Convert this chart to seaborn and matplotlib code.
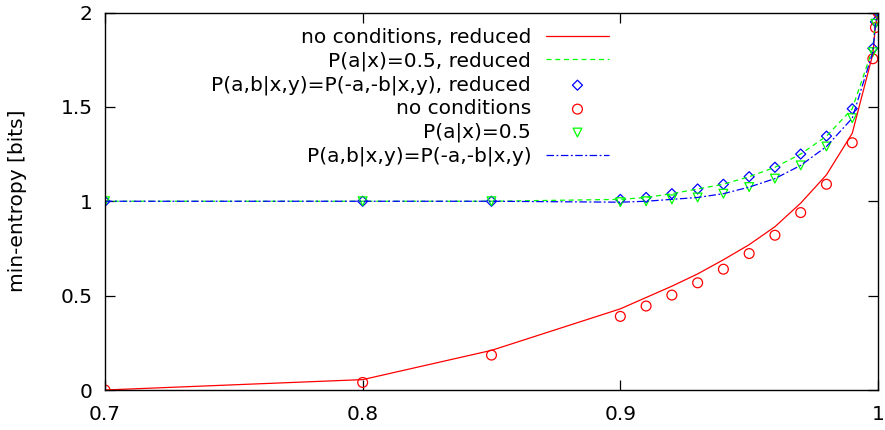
import matplotlib
matplotlib.use("Agg")
import matplotlib.pyplot as plt
import numpy as np
import pandas as pd
import seaborn as sns

# detection efficiency values
eta = [0.7, 0.8, 0.85, 0.9, 0.91, 0.92, 0.93, 0.94, 0.95, 0.96, 0.97, 0.98, 0.99, 0.998, 0.999, 1.0]

# min-entropy [bits]
no_cond_reduced = [0.0, 0.055, 0.21, 0.43, 0.49, 0.55, 0.615, 0.69, 0.77, 0.865, 0.99, 1.14, 1.36, 1.78, 1.93, 2.0]
half_reduced = [1.0, 1.0, 1.0, 1.01, 1.02, 1.04, 1.065, 1.09, 1.13, 1.18, 1.25, 1.345, 1.49, 1.81, 1.95, 2.0]
sym_reduced = [1.0, 1.0, 1.0, 1.01, 1.02, 1.04, 1.065, 1.09, 1.13, 1.18, 1.25, 1.345, 1.49, 1.81, 1.95, 2.0]
no_cond = [0.0, 0.04, 0.185, 0.39, 0.445, 0.503, 0.568, 0.64, 0.723, 0.82, 0.94, 1.09, 1.31, 1.755, 1.92, 2.0]
half = [1.0, 1.0, 1.0, 0.995, 1.0, 1.01, 1.02, 1.04, 1.075, 1.12, 1.19, 1.29, 1.44, 1.79, 1.94, 2.0]
sym = [1.0, 1.0, 1.0, 0.995, 1.0, 1.01, 1.02, 1.04, 1.075, 1.12, 1.19, 1.29, 1.44, 1.79, 1.94, 2.0]

RED, GREEN, BLUE = "#ff0000", "#00ff00", "#0000ff"
FS = 14.5

sns.set_style("white")
plt.rcParams["font.family"] = ["DejaVu Sans"]
plt.rcParams["font.size"] = FS
plt.rcParams["text.color"] = "black"
plt.rcParams["xtick.color"] = "black"
plt.rcParams["ytick.color"] = "black"
plt.rcParams["axes.labelcolor"] = "black"

df = pd.DataFrame({"eta": eta, "ncr": no_cond_reduced, "hr": half_reduced,
                   "sr": sym_reduced, "nc": no_cond, "h": half, "s": sym})

fig = plt.figure(figsize=(8.85, 4.3), dpi=100)
ax = fig.add_axes([105 / 885, 40 / 430, 773 / 885, 377.5 / 430])

lw = 0.9
sns.lineplot(data=df, x="eta", y="ncr", ax=ax, color=RED, lw=lw,
             label="no conditions, reduced")
sns.lineplot(data=df, x="eta", y="hr", ax=ax, color=GREEN, lw=lw,
             label="P(a|x)=0.5, reduced")
ax.lines[-1].set_dashes([4, 3])
sns.scatterplot(data=df, x="eta", y="sr", ax=ax, marker="D", s=26,
                facecolor="none", edgecolor=BLUE, linewidth=0.9,
                label="P(a,b|x,y)=P(-a,-b|x,y), reduced")
sns.scatterplot(data=df, x="eta", y="nc", ax=ax, marker="o", s=50,
                facecolor="none", edgecolor=RED, linewidth=0.9,
                label="no conditions")
sns.scatterplot(data=df, x="eta", y="h", ax=ax, marker="v", s=40,
                facecolor="none", edgecolor=GREEN, linewidth=0.9,
                label="P(a|x)=0.5")
sns.lineplot(data=df, x="eta", y="s", ax=ax, color=BLUE, lw=lw,
             label="P(a,b|x,y)=P(-a,-b|x,y)")
ax.lines[-1].set_dashes([6, 2, 1.5, 2])

ax.set_xlim(0.7, 1.0)
ax.set_ylim(0, 2)
ax.set_xticks([0.7, 0.8, 0.9, 1.0])
ax.set_xticklabels(["0.7", "0.8", "0.9", "1"])
ax.set_yticks([0, 0.5, 1, 1.5, 2])
ax.set_yticklabels(["0", "0.5", "1", "1.5", "2"])
ax.tick_params(direction="in", length=7.5, width=0.9, bottom=True, left=True,
               top=True, right=True, labelsize=FS)
ax.tick_params(axis="x", pad=11)
ax.tick_params(axis="y", pad=9)
for sp in ax.spines.values():
    sp.set_color("black")
    sp.set_linewidth(1.0)
ax.set_xlabel("")
ax.set_ylabel("min-entropy [bits]", fontsize=FS)
ax.yaxis.set_label_coords(-0.101, 0.5)

leg = ax.legend(loc="upper right", bbox_to_anchor=(0.662, 0.98), frameon=False,
                markerfirst=False, handlelength=3.1, handletextpad=0.75,
                labelspacing=0.22, fontsize=FS, borderaxespad=0)
for t in leg.get_texts():
    t.set_ha("right")
leg._legend_box.align = "right"

fig.savefig("out.png", dpi=100)
